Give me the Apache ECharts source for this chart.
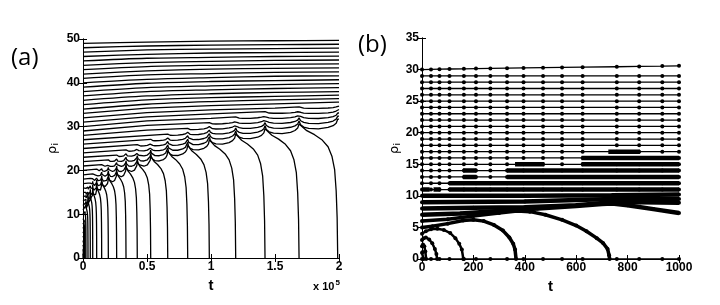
<!DOCTYPE html>
<html><head><meta charset="utf-8">
<script src="https://cdn.jsdelivr.net/npm/echarts@6/dist/echarts.min.js"></script>
<style>html,body{margin:0;padding:0;background:#fff}#c{width:720px;height:305px}</style>
</head><body><div id="c"></div>
<script>
// ---------------- panel (a) data ----------------
const A_X_TICKS = [0, 0.5, 1, 1.5, 2];           // x 10^5
const A_Y_TICKS = [0, 10, 20, 30, 40, 50];
const A_START = [0,1,2,3,4,5,6,7,8,9,10,11,12,13,14,15,16,17,18,19,20,21,22,23,24,
  25,26,27,28,29,30,31,32,33,34,35,36,37,38,39,40,41,42,43,44,45,46,47,48,49];
// time at which particle j reaches rho = 0
const A_DROP_T = [0.001,0.002,0.003,0.004,0.005,0.0065,0.008,0.010,0.012,0.016,
  0.023,0.039,0.057,0.076,0.107,0.146,0.198,0.263,0.336,0.424,0.529,0.662,0.818,0.987,
  1.193,1.422,1.688,1.99];
// height from which particle j starts falling (at the previous drop time)
const A_DROP_H = [0,1,2,3.05,4.1,5.15,6.2,7.25,8.3,9.4,10.6,12,13.2,14.3,15.3,16.4,17.4,
  18.5,19.6,20.8,22,23.2,24.4,25.7,27,28.3,29.5,30.6,31.7];
// pack spacing at the cusps and sag of the scallop arcs, by rank
const A_PACK_OFF = [0, 0.7, 1.4, 2.2, 3.0, 3.9];
const A_ARC_DIP = [2.0, 1.5, 1.1, 0.75, 0.45];
const A_ARC_F = [0, 0.04, 0.12, 0.25, 0.5, 0.75, 0.88, 0.96, 1];
const A_ARC_S = [0, 0.45, 0.72, 0.9, 1, 0.9, 0.72, 0.45, 0];
// shape of a falling curve (fraction of time, fraction of height)
const A_FALL_F = [0, 0.2, 0.4, 0.6, 0.75, 0.85, 0.92, 0.96, 0.985, 1];
const A_FALL_R = [1, 0.95, 0.92, 0.88, 0.83, 0.76, 0.66, 0.5, 0.3, 0];
// upper (surviving) lines read at t = 0, 0.5, 1, 1.5, 2
const A_FREE_T = [0, 0.5, 1.0, 1.5, 2.0];
const A_FREE = {
  28:[28,29.2], 29:[29,30.3], 30:[30,31.3,31.9], 31:[31,32.2,32.9],
  32:[32,33.2,33.8,34.2], 33:[33,34.2,34.8,35.2],
  34:[34,35.1,35.7,36.1,36.4], 35:[35,36.1,36.6,36.9,37.2], 36:[36,37.0,37.5,37.8,38.0],
  37:[37,38.0,38.4,38.7,38.9], 38:[38,38.9,39.3,39.6,39.8], 39:[39,39.9,40.3,40.5,40.7],
  40:[40,40.8,41.2,41.5,41.6], 41:[41,41.8,42.1,42.4,42.5], 42:[42,42.7,43.1,43.3,43.4],
  43:[43,43.7,44.0,44.2,44.3], 44:[44,44.6,44.9,45.1,45.2], 45:[45,45.6,45.8,46.0,46.1],
  46:[46,46.5,46.8,46.9,47.0], 47:[47,47.5,47.7,47.8,47.9], 48:[48,48.4,48.6,48.7,48.8],
  49:[49,49.3,49.5,49.6,49.7]
};

// ---------------- panel (b) data ----------------
const B_X_TICKS = [0, 200, 400, 600, 800, 1000];
const B_Y_TICKS = [0, 5, 10, 15, 20, 25, 30, 35];
const B_SPARSE_T = [0, 35, 68, 107, 163, 210, 266, 331, 395, 471, 545, 625, 758, 845, 935, 1000];
const B_FLAT_ROWS = [0, 11, 12, 13, 14, 15, 16, 17, 18, 19, 20, 21, 22, 23, 24, 25, 26, 27, 28, 29];
const B_TOP_ROW = [30, 30.03, 30.06, 30.09, 30.12, 30.15, 30.18, 30.22, 30.26, 30.3, 30.34, 30.38, 30.45, 30.5, 30.55, 30.6];
// [row, t start, t end] where the samples are so dense they form a bar
const B_DENSE = [[11,0,30],[11,45,72],[11,106,1000],[12,106,1000],[13,160,212],[13,330,1000],
  [14,160,212],[14,330,1000],[15,362,476],[15,621,1000],[16,621,1000],[17,725,848]];
const B_C0 = [[0,1],[3,1.1],[6,0]];
const B_C1 = [[0,2],[4,2.3],[9,2.0],[13,1.2],[16,0]];
const B_C2 = [[0,3],[6,3.3],[15,3.4],[28,3.1],[40,2.5],[50,1.6],[56,0.8],[59,0]];
const B_C3 = [[0,4],[15,4.4],[35,4.7],[60,4.8],[85,4.6],[110,4.1],[130,3.3],[145,2.4],[155,1.5],[161,0]];
const B_C4 = [[0,5],[40,5.2],[100,5.6],[160,6.1],[200,6.2],[240,6.0],[280,5.4],[315,4.5],[340,3.4],[355,2.4],[362,1.5],[366,0]];
const B_C5 = [[0,6],[100,6.3],[200,6.8],[300,7.3],[370,7.6],[420,7.5],[480,7.0],[545,6.2],[600,5.3],[640,4.4],[680,3.3],[705,2.5],[722,1.6],[728,0.6],[730,0]];
const B_C6 = [[0,7],[150,7.2],[300,7.6],[450,8.0],[600,8.4],[700,8.7],[740,8.8],[800,8.5],[900,7.9],[1000,7.3]];
const B_R8 = [[0,8],[200,8.1],[400,8.2],[600,8.5],[740,9.0],[850,9.0],[1000,8.9]];
const B_R9 = [[0,9],[400,9.1],[740,9.5],[1000,9.5]];
const B_R10 = [[0,10],[400,10],[740,10.1],[1000,10.2]];
const B_CURVES = [B_C0, B_C1, B_C2, B_C3, B_C4, B_C5, B_C6, B_R8, B_R9, B_R10];
const B_CURVE_W = [2.5, 2.5, 2.5, 2.5, 3.5, 3.5, 4.5, 4.5, 4.5, 4.5];

// ---------------- build panel (a) paths ----------------
function particlePath(j) {
  const pts = [];
  const kLo = Math.max(10, j - 6), kHi = Math.min(j - 1, 27);
  const hasPack = kLo <= kHi;
  const free = A_FREE[j];
  if (free) {
    const firstT = hasPack ? A_DROP_T[kLo] : 10;
    free.forEach((v, i) => { if (A_FREE_T[i] < firstT - 0.15) pts.push([A_FREE_T[i], v]); });
  } else {
    pts.push([0, A_START[j]]);
  }
  let prevY = null;
  if (hasPack) {
    for (let k = kLo; k <= kHi; k++) {
      const r = j - k - 1;
      const y = A_DROP_H[k + 1] + A_PACK_OFF[r];
      if (k > kLo) {
        const t0 = A_DROP_T[k - 1], t1 = A_DROP_T[k];
        for (let i = 1; i < A_ARC_F.length - 1; i++) {
          const f = A_ARC_F[i];
          pts.push([t0 + f * (t1 - t0), prevY + f * (y - prevY) - A_ARC_DIP[r] * A_ARC_S[i]]);
        }
      }
      pts.push([A_DROP_T[k], y]);
      prevY = y;
    }
  } else if (j <= 27 && j >= 1) {
    pts.push([A_DROP_T[j - 1], A_DROP_H[j]]);
  }
  if (j <= 27 && j >= 1) {
    const t0 = A_DROP_T[j - 1], t1 = A_DROP_T[j], h = A_DROP_H[j];
    for (let i = 1; i < A_FALL_F.length; i++) pts.push([t0 + A_FALL_F[i] * (t1 - t0), h * A_FALL_R[i]]);
  } else if (j > 27) {
    const last = pts[pts.length - 1];
    if (last[0] < 2) pts.push([2, last[1]]);
  }
  return pts;
}

const FONT = 'Liberation Sans';
const series = [];
for (let j = 1; j < A_START.length; j++) {
  const onlyFree = !(Math.max(10, j - 6) <= Math.min(j - 1, 27)) && j > 27;
  series.push({
    type: 'line', xAxisIndex: 0, yAxisIndex: 0, data: particlePath(j),
    showSymbol: false, smooth: onlyFree ? 0.3 : false, silent: true,
    lineStyle: { color: '#000', width: 1.3 }, clip: true
  });
}
// ---------------- panel (b) series ----------------
const dot = { symbol: 'circle', symbolSize: 4, itemStyle: { color: '#000' } };
B_FLAT_ROWS.forEach(rho => {
  series.push(Object.assign({
    type: 'line', xAxisIndex: 2, yAxisIndex: 2, showSymbol: true, silent: true,
    data: B_SPARSE_T.map(t => [t, rho]), lineStyle: { color: '#000', width: 1.3 }, clip: false
  }, dot));
});
series.push(Object.assign({
  type: 'line', xAxisIndex: 2, yAxisIndex: 2, showSymbol: true, silent: true,
  data: B_SPARSE_T.map((t, i) => [t, B_TOP_ROW[i]]), lineStyle: { color: '#000', width: 1.3 }
}, dot));
B_DENSE.forEach(d => {
  series.push({
    type: 'line', xAxisIndex: 2, yAxisIndex: 2, showSymbol: false, silent: true,
    data: [[d[1], d[0]], [d[2], d[0]]], lineStyle: { color: '#000', width: 4.5, cap: 'butt' }
  });
});
B_CURVES.forEach((c, i) => {
  series.push(Object.assign({
    type: 'line', xAxisIndex: 2, yAxisIndex: 2, showSymbol: true, silent: true, clip: false,
    data: c, lineStyle: { color: '#000', width: B_CURVE_W[i] }
  }, dot));
});

const lab = { color: '#000', fontFamily: FONT, fontWeight: 'bold', fontSize: 12, formatter: v => String(v) };
function xAx(grid, ticks, top) {
  return {
    type: 'value', gridIndex: grid, position: top ? 'top' : 'bottom',
    min: ticks[0], max: ticks[ticks.length - 1], interval: ticks[1] - ticks[0],
    axisLine: { show: true, lineStyle: { color: '#000', width: 1 } },
    axisTick: { show: true, inside: true, length: 4, lineStyle: { color: '#000' } },
    axisLabel: top ? { show: false } : Object.assign({ margin: 3 }, lab),
    splitLine: { show: false },
    name: top ? '' : 't', nameLocation: 'middle', nameGap: 14,
    nameTextStyle: { color: '#000', fontFamily: FONT, fontWeight: 'bold', fontSize: 15 }
  };
}
function yAx(grid, ticks, right, gap) {
  return {
    type: 'value', gridIndex: grid, position: right ? 'right' : 'left',
    min: ticks[0], max: ticks[ticks.length - 1], interval: ticks[1] - ticks[0],
    axisLine: { show: true, lineStyle: { color: '#000', width: 1 } },
    axisTick: { show: true, inside: true, length: 4, lineStyle: { color: '#000' } },
    axisLabel: right ? { show: false } : Object.assign({ margin: 3 }, lab),
    splitLine: { show: false },
    name: right ? '' : '{r|ρ}{s|i}', nameLocation: 'middle', nameGap: gap, nameRotate: 90,
    nameTextStyle: {
      color: '#000', fontFamily: 'DejaVu Sans',
      rich: { r: { fontSize: 13, fontFamily: 'DejaVu Sans', color: '#000', lineHeight: 16 },
              s: { fontSize: 9, fontFamily: 'DejaVu Sans', color: '#000', padding: [6, 0, 0, 0] } }
    }
  };
}

const chart = echarts.init(document.getElementById('c'));
chart.setOption({
  animation: false,
  backgroundColor: '#fff',
  grid: [
    { left: 83, right: 381, top: 39, bottom: 47 },
    { left: 422, right: 41, top: 38, bottom: 46 }
  ],
  xAxis: [xAx(0, A_X_TICKS, false), xAx(0, A_X_TICKS, true), xAx(1, B_X_TICKS, false), xAx(1, B_X_TICKS, true)],
  yAxis: [yAx(0, A_Y_TICKS, false, 22), yAx(0, A_Y_TICKS, true, 0), yAx(1, B_Y_TICKS, false, 18), yAx(1, B_Y_TICKS, true, 0)],
  graphic: [
    { type: 'text', left: 11, top: 46, style: { text: '(a)', font: '24px "Open Sans"', fill: '#000' } },
    { type: 'text', left: 358, top: 33, style: { text: '(b)', font: '24px "Open Sans"', fill: '#000' } },
    { type: 'text', left: 313, top: 279, style: { text: 'x 10{s|5}', fill: '#000',
        font: 'bold 11px "Liberation Sans"',
        rich: { s: { fontSize: 8, fontWeight: 'bold', fontFamily: 'Liberation Sans', padding: [0, 0, 8, 1] } } } }
  ],
  series: series
});
</script></body></html>
